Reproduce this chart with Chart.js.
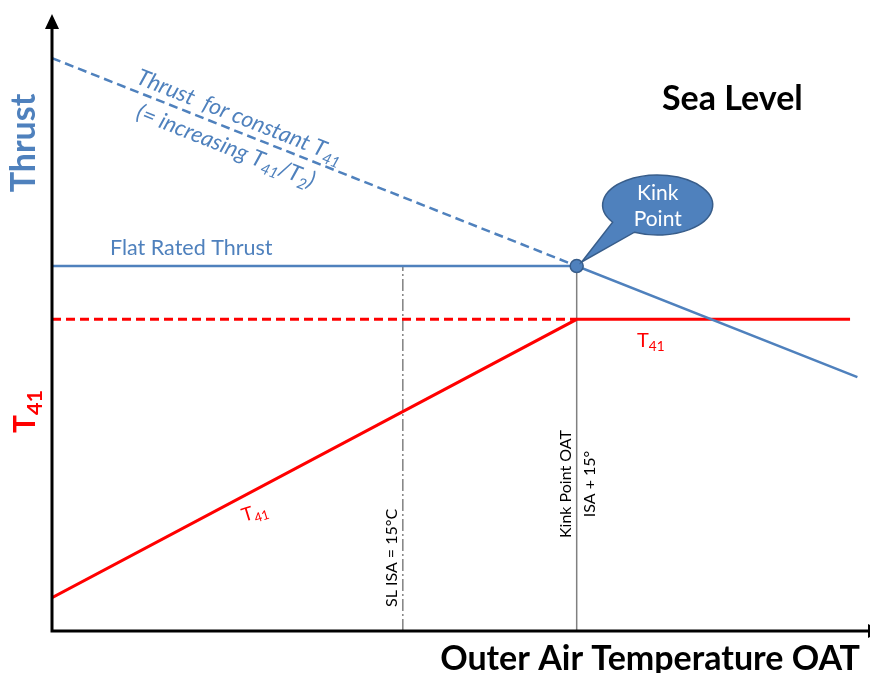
<!DOCTYPE html>
<html>
<head>
<meta charset="utf-8">
<script src="https://cdn.jsdelivr.net/npm/chart.js@4"></script>
<style>
  html, body { margin: 0; padding: 0; background: #fff; }
  canvas { display: block; }
</style>
</head>
<body>
<canvas id="kinkChart" width="870" height="673"></canvas>
<script>
// OAT (x) and Thrust / T41 (y) on a 0..100 relative scale
const constT41ThrustX = [0, 64.3];
const constT41ThrustY = [93, 59.25];
const flatThrustX = [0, 64.3, 98.7];
const flatThrustY = [59.25, 59.25, 41.2];
const t41LimitX = [0, 64.3];
const t41LimitY = [50.6, 50.6];
const t41X = [0, 64.3, 97.8];
const t41Y = [5.4, 50.6, 50.6];
const slIsaX = [43, 43];
const kinkOatX = [64.3, 64.3];
const refLineY = [0, 59.25];
const kinkPoint = [64.3, 59.25];

const blue = '#4f81bd';
const blueDark = '#385d8a';
const red = '#ff0000';

const pts = (xs, ys) => xs.map((v, i) => ({x: v, y: ys[i]}));

// text with optional subscript parts: [[text, isSub], ...]
function drawRuns(ctx, parts, x, y, angle, size, color, weight, style, subScale) {
  ctx.save();
  ctx.translate(x, y);
  ctx.rotate(angle);
  ctx.fillStyle = color;
  ctx.textBaseline = 'alphabetic';
  ctx.textAlign = 'left';
  let cx = 0;
  parts.forEach(([t, sub]) => {
    const s = sub ? size * (subScale || 0.68) : size;
    ctx.font = `${style || 'normal'} ${weight || 'normal'} ${s}px Lato`;
    ctx.fillText(t, cx, sub ? size * 0.22 : 0);
    cx += ctx.measureText(t).width;
  });
  ctx.restore();
}

function drawText(ctx, t, x, y, angle, font, color, align) {
  ctx.save();
  ctx.translate(x, y);
  ctx.rotate(angle);
  ctx.font = font;
  ctx.fillStyle = color;
  ctx.textAlign = align || 'left';
  ctx.textBaseline = 'alphabetic';
  ctx.fillText(t, 0, 0);
  ctx.restore();
}

const axesPlugin = {
  id: 'axesPlugin',
  afterDatasetsDraw(chart) {
    const {ctx, chartArea: a} = chart;
    ctx.save();
    ctx.strokeStyle = '#000';
    ctx.fillStyle = '#000';
    ctx.lineWidth = 3;
    ctx.beginPath();
    ctx.moveTo(a.left, a.bottom + 1.5);
    ctx.lineTo(a.left, a.top + 10);
    ctx.moveTo(a.left - 1.5, a.bottom);
    ctx.lineTo(a.right + 2, a.bottom);
    ctx.stroke();
    // arrow heads
    ctx.beginPath();
    ctx.moveTo(a.left, a.top - 1);
    ctx.lineTo(a.left - 7, a.top + 14);
    ctx.lineTo(a.left + 7, a.top + 14);
    ctx.closePath();
    ctx.fill();
    ctx.beginPath();
    ctx.moveTo(a.right + 14, a.bottom);
    ctx.lineTo(a.right, a.bottom - 7);
    ctx.lineTo(a.right, a.bottom + 7);
    ctx.closePath();
    ctx.fill();
    ctx.restore();
  }
};

const labelsPlugin = {
  id: 'labelsPlugin',
  afterDraw(chart) {
    const {ctx, scales: {x, y}} = chart;
    const up = -Math.PI / 2;

    // axis titles
    drawText(ctx, 'Thrust', 35, 143, up, 'bold 34px Lato', blue, 'center');
    drawRuns(ctx, [['T', false], ['41', true]], 35, 433, up, 30, red, 'bold', 'normal', 0.72);
    drawText(ctx, 'Outer Air Temperature OAT', 860, 670, 0, 'bold 34px Lato', '#000', 'right');
    drawText(ctx, 'Sea Level', 662, 110, 0, 'bold 34px Lato', '#000', 'left');

    // thrust labels
    const slope = Math.atan2(y.getPixelForValue(constT41ThrustY[1]) - y.getPixelForValue(constT41ThrustY[0]),
                             x.getPixelForValue(constT41ThrustX[1]) - x.getPixelForValue(constT41ThrustX[0]));
    drawRuns(ctx, [['Thrust  for constant T', false], ['41', true]], 135, 83, slope, 22.5, blue, 'normal', 'italic');
    drawRuns(ctx, [['(= increasing T', false], ['41', true], ['/T', false], ['2', true], [')', false]], 135, 118, slope, 22.5, blue, 'normal', 'italic');
    drawText(ctx, 'Flat Rated Thrust', 110, 255, 0, '21.5px Lato', blue, 'left');

    // T41 labels
    drawRuns(ctx, [['T', false], ['41', true]], 637, 347, 0, 20, red, 'normal', 'normal');
    drawRuns(ctx, [['T', false], ['41', true]], 244, 522, -0.3, 19, red, 'normal', 'normal');

    // reference line labels
    drawText(ctx, 'SL ISA = 15°C', 397, 607, up, '16px Lato', '#000', 'left');
    drawText(ctx, 'Kink Point OAT', 571, 484, up, '16px Lato', '#000', 'center');
    drawText(ctx, 'ISA + 15°', 595, 484, up, '16px Lato', '#000', 'center');

    // callout bubble
    const kx = x.getPixelForValue(kinkPoint[0]);
    const ky = y.getPixelForValue(kinkPoint[1]);
    const cx = kx + 81, cy = ky - 61, rx = 55, ry = 30;
    const a1 = 145 * Math.PI / 180, a2 = 115 * Math.PI / 180;
    ctx.save();
    ctx.beginPath();
    ctx.moveTo(kx + 5, ky - 4);
    ctx.lineTo(cx + rx * Math.cos(a1), cy + ry * Math.sin(a1));
    ctx.ellipse(cx, cy, rx, ry, 0, a1, a2 + 2 * Math.PI);
    ctx.closePath();
    ctx.fillStyle = blue;
    ctx.fill();
    ctx.lineWidth = 1.5;
    ctx.strokeStyle = blueDark;
    ctx.stroke();
    ctx.restore();
    drawText(ctx, 'Kink', cx, cy - 5, 0, '21px Lato', '#fff', 'center');
    drawText(ctx, 'Point', cx, cy + 21, 0, '21px Lato', '#fff', 'center');
  }
};

const data = {
  datasets: [
    {
      label: 'Kink Point',
      data: [{x: kinkPoint[0], y: kinkPoint[1]}],
      showLine: false,
      pointRadius: 6.5,
      backgroundColor: blue,
      borderColor: blueDark,
      borderWidth: 1.5
    },
    {
      label: 'Thrust for constant T41',
      data: pts(constT41ThrustX, constT41ThrustY),
      showLine: true,
      borderColor: blue,
      borderWidth: 2.5,
      borderDash: [9, 5],
      pointRadius: 0
    },
    {
      label: 'Flat Rated Thrust',
      data: pts(flatThrustX, flatThrustY),
      showLine: true,
      borderColor: blue,
      borderWidth: 2.5,
      pointRadius: 0
    },
    {
      label: 'T41 limit',
      data: pts(t41LimitX, t41LimitY),
      showLine: true,
      borderColor: red,
      borderWidth: 3,
      borderDash: [9, 5],
      pointRadius: 0
    },
    {
      label: 'T41',
      data: pts(t41X, t41Y),
      showLine: true,
      borderColor: red,
      borderWidth: 3,
      pointRadius: 0
    },
    {
      label: 'SL ISA',
      data: pts(slIsaX, refLineY),
      showLine: true,
      borderColor: '#404040',
      borderWidth: 1,
      borderDash: [12, 3, 2, 3],
      pointRadius: 0
    },
    {
      label: 'Kink Point OAT',
      data: pts(kinkOatX, refLineY),
      showLine: true,
      borderColor: '#808080',
      borderWidth: 1.5,
      pointRadius: 0
    }
  ]
};

const ctx = document.getElementById('kinkChart').getContext('2d');
const kinkChart = new Chart(ctx, {
  type: 'scatter',
  data: data,
  options: {
    responsive: false,
    animation: false,
    layout: { autoPadding: false, padding: { left: 52, top: 15, right: 2, bottom: 42 } },
    plugins: {
      legend: { display: false },
      tooltip: { enabled: false }
    },
    scales: {
      x: { type: 'linear', min: 0, max: 100, display: false },
      y: { type: 'linear', min: 0, max: 100, display: false }
    }
  },
  plugins: [axesPlugin, labelsPlugin]
});
</script>
</body>
</html>
